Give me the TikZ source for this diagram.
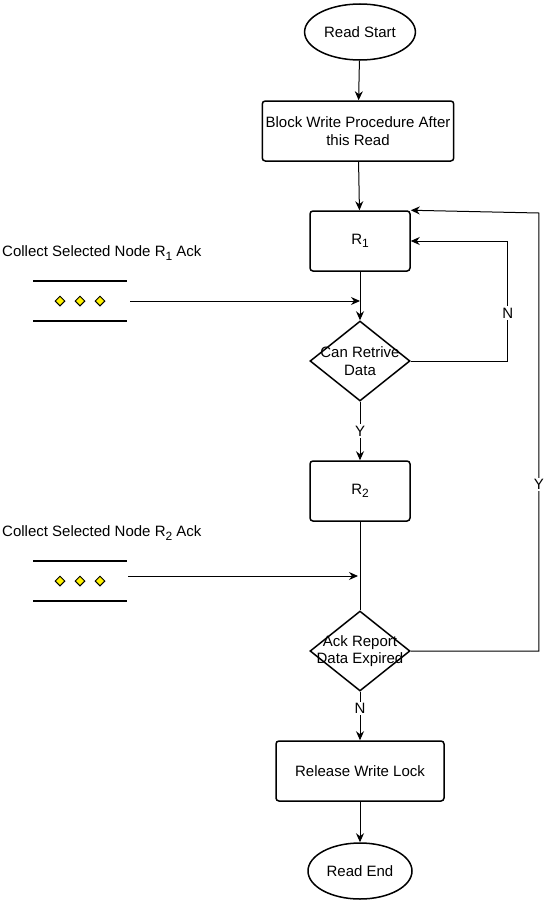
\documentclass[tikz,border=0pt]{standalone}
\usepackage{fontspec}
\setmainfont{Liberation Sans}
\usetikzlibrary{arrows.meta,shapes.geometric,positioning}
\newcommand{\lowsub}[1]{\raisebox{-0.45ex}{\fontsize{12}{13}\selectfont #1}}
\tikzset{
	basefont/.style={font=\fontsize{15}{17.5}\selectfont},
	flowbox/.style={draw,line width=1.5pt,rounded corners=3pt,minimum width=100pt,minimum height=60pt,align=center,basefont},
	terminal/.style={draw,line width=1.5pt,ellipse,minimum width=104pt,minimum height=56pt,basefont},
	decision/.style={draw,line width=1.5pt,diamond,inner sep=0pt,minimum width=100pt,minimum height=80pt},
	flow/.style={draw,line width=1pt,-{Stealth[length=9pt,width=8pt]}},
	plainflow/.style={draw,line width=1pt},
	edgelabel/.style={fill=white,inner sep=1.5pt,basefont},
	marker/.style={draw,fill=yellow,diamond,inner sep=0pt,minimum size=10pt,line width=1pt},
	queueline/.style={line width=1.5pt}
}
\begin{document}
\begin{tikzpicture}[x=1pt,y=-1pt]
	\useasboundingbox (0,0) rectangle (546,902);

	% Main column
	\node[terminal] (start) at (360,32) {Read Start};
	\node[flowbox,minimum width=190pt] (block) at (358,131) {Block Write Procedure After\\this Read};
	\node[flowbox] (r1) at (360,241) {R\lowsub{1}};
	\node[decision] (can) at (360,361) {};
	\node[align=center,basefont] (cantext) at (can) {Can Retrive\\Data};
	\node[flowbox] (r2) at (360,491) {R\lowsub{2}};
	\node[decision] (exp) at (360,651) {};
	\node[align=center,basefont] (exptext) at (exp) {Ack Report\\Data Expired};
	\node[flowbox,minimum width=168pt] (rel) at (360,771) {Release Write Lock};
	\node[terminal] (end) at (360,871) {Read End};

	% Acknowledgement queues
	\node[anchor=west,basefont,inner sep=0pt] (ack1) at (2,253) {Collect Selected Node R\lowsub{1} Ack};
	\draw[queueline] (33,281) -- (127,281) (33,321) -- (127,321);
	\foreach \x in {60,80,100} \node[marker] (m1-\x) at (\x,301) {};
	\coordinate (q1out) at (130,301);
	\coordinate (q1in) at (360,301);

	\node[anchor=west,basefont,inner sep=0pt] (ack2) at (2,533) {Collect Selected Node R\lowsub{2} Ack};
	\draw[queueline] (33,561) -- (127,561) (33,601) -- (127,601);
	\foreach \x in {60,80,100} \node[marker] (m2-\x) at (\x,581) {};
	\coordinate (q2out) at (128,576);
	\coordinate (q2in) at (358,576);

	% Connectors
	\draw[flow] (start) -- (block);
	\draw[flow] (block) -- (r1);
	\draw[flow] (r1) -- (can.north);
	\draw[flow] (can.south) -- node[edgelabel]{Y} (r2.north);
	\draw[plainflow] (r2) -- (exp.north);
	\draw[flow] (exp.south) -- node[edgelabel,pos=0.34]{N} (rel.north);
	\draw[flow] (rel) -- (end);
	\draw[flow] (q1out) -- (q1in);
	\draw[flow] (q2out) -- (q2in);

	% Loops back to R1
	\draw[flow] (can.east) -- ++(97,0) -- node[edgelabel,pos=0.4]{N} ++(0,-120) -- (r1.east);
	\draw[flow] (exp.east) -- ++(128,0) -- node[edgelabel,pos=0.38]{Y} ++(0,-438) -- (r1.north east);
\end{tikzpicture}
\end{document}
